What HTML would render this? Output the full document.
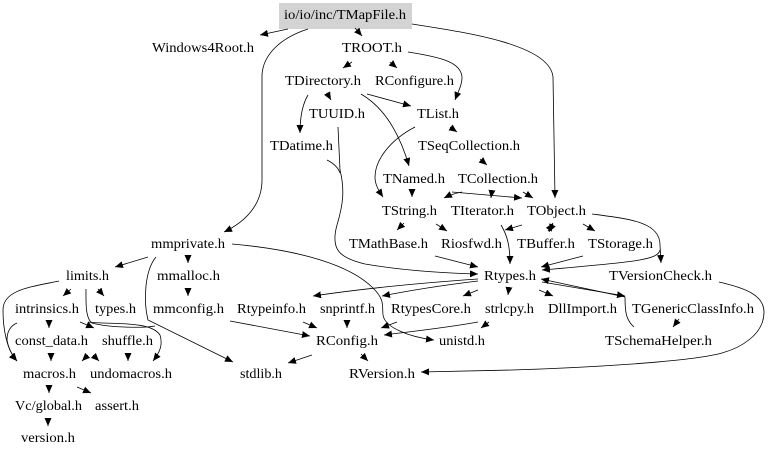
<!DOCTYPE html>
<html><head><meta charset="utf-8"><style>
html,body{margin:0;padding:0;background:#fff}
svg{display:block}
text{font-family:"Liberation Serif",serif;font-size:13.6px;fill:#000}
path{fill:none;stroke:#000;stroke-width:.8;marker-end:url(#a)}
</style></head><body>
<svg width="768" height="455" viewBox="0 0 768 455" xmlns="http://www.w3.org/2000/svg">
<defs><marker id="a" markerUnits="userSpaceOnUse" markerWidth="9" markerHeight="8" refX="8" refY="3.5" orient="auto"><polygon points="0,0 8,3.5 0,7" fill="#000"/></marker></defs>
<rect x="279" y="3" width="133" height="26" fill="#d3d3d3"/>
<text x="284" y="19" textLength="122" lengthAdjust="spacingAndGlyphs">io/io/inc/TMapFile.h</text>
<text x="152" y="52" textLength="102" lengthAdjust="spacingAndGlyphs">Windows4Root.h</text>
<text x="342" y="52" textLength="60" lengthAdjust="spacingAndGlyphs">TROOT.h</text>
<text x="285" y="85" textLength="76" lengthAdjust="spacingAndGlyphs">TDirectory.h</text>
<text x="375" y="85" textLength="79" lengthAdjust="spacingAndGlyphs">RConfigure.h</text>
<text x="309" y="118" textLength="56" lengthAdjust="spacingAndGlyphs">TUUID.h</text>
<text x="417" y="118" textLength="42" lengthAdjust="spacingAndGlyphs">TList.h</text>
<text x="270" y="150" textLength="63" lengthAdjust="spacingAndGlyphs">TDatime.h</text>
<text x="418" y="150" textLength="102" lengthAdjust="spacingAndGlyphs">TSeqCollection.h</text>
<text x="383" y="183" textLength="62" lengthAdjust="spacingAndGlyphs">TNamed.h</text>
<text x="458" y="183" textLength="80" lengthAdjust="spacingAndGlyphs">TCollection.h</text>
<text x="382" y="215" textLength="55" lengthAdjust="spacingAndGlyphs">TString.h</text>
<text x="451" y="215" textLength="63" lengthAdjust="spacingAndGlyphs">TIterator.h</text>
<text x="527" y="215" textLength="59" lengthAdjust="spacingAndGlyphs">TObject.h</text>
<text x="349" y="248" textLength="79" lengthAdjust="spacingAndGlyphs">TMathBase.h</text>
<text x="441" y="248" textLength="61" lengthAdjust="spacingAndGlyphs">Riosfwd.h</text>
<text x="517" y="248" textLength="58" lengthAdjust="spacingAndGlyphs">TBuffer.h</text>
<text x="588" y="248" textLength="65" lengthAdjust="spacingAndGlyphs">TStorage.h</text>
<text x="151" y="248" textLength="74" lengthAdjust="spacingAndGlyphs">mmprivate.h</text>
<text x="484" y="280" textLength="52" lengthAdjust="spacingAndGlyphs">Rtypes.h</text>
<text x="609" y="280" textLength="103" lengthAdjust="spacingAndGlyphs">TVersionCheck.h</text>
<text x="66" y="280" textLength="43" lengthAdjust="spacingAndGlyphs">limits.h</text>
<text x="157" y="280" textLength="63" lengthAdjust="spacingAndGlyphs">mmalloc.h</text>
<text x="15" y="313" textLength="64" lengthAdjust="spacingAndGlyphs">intrinsics.h</text>
<text x="95" y="313" textLength="41" lengthAdjust="spacingAndGlyphs">types.h</text>
<text x="153" y="313" textLength="71" lengthAdjust="spacingAndGlyphs">mmconfig.h</text>
<text x="237" y="313" textLength="69" lengthAdjust="spacingAndGlyphs">Rtypeinfo.h</text>
<text x="320" y="313" textLength="55" lengthAdjust="spacingAndGlyphs">snprintf.h</text>
<text x="391" y="313" textLength="80" lengthAdjust="spacingAndGlyphs">RtypesCore.h</text>
<text x="485" y="313" textLength="49" lengthAdjust="spacingAndGlyphs">strlcpy.h</text>
<text x="548" y="313" textLength="69" lengthAdjust="spacingAndGlyphs">DllImport.h</text>
<text x="632" y="313" textLength="122" lengthAdjust="spacingAndGlyphs">TGenericClassInfo.h</text>
<text x="15" y="345" textLength="73" lengthAdjust="spacingAndGlyphs">const_data.h</text>
<text x="102" y="345" textLength="51" lengthAdjust="spacingAndGlyphs">shuffle.h</text>
<text x="316" y="345" textLength="62" lengthAdjust="spacingAndGlyphs">RConfig.h</text>
<text x="439" y="345" textLength="46" lengthAdjust="spacingAndGlyphs">unistd.h</text>
<text x="605" y="345" textLength="107" lengthAdjust="spacingAndGlyphs">TSchemaHelper.h</text>
<text x="23" y="378" textLength="53" lengthAdjust="spacingAndGlyphs">macros.h</text>
<text x="90" y="378" textLength="82" lengthAdjust="spacingAndGlyphs">undomacros.h</text>
<text x="240" y="378" textLength="42" lengthAdjust="spacingAndGlyphs">stdlib.h</text>
<text x="349" y="378" textLength="66" lengthAdjust="spacingAndGlyphs">RVersion.h</text>
<text x="15" y="410" textLength="67" lengthAdjust="spacingAndGlyphs">Vc/global.h</text>
<text x="95" y="410" textLength="44" lengthAdjust="spacingAndGlyphs">assert.h</text>
<text x="21" y="442" textLength="54" lengthAdjust="spacingAndGlyphs">version.h</text>

<path d="M288,29 L260,35"/>
<path d="M308,29 C280,38 263,55 262,75 L262,180 C262,205 245,222 224,232"/>
<path d="M355,28 L362,36"/>
<path d="M412,24 C470,33 550,45 553,77 L555,198"/>
<path d="M352,62 L343,68"/>
<path d="M390,62 L397,68"/>
<path d="M408,52 C440,57 462,62 462,78 C462,85 458,92 455,100"/>
<path d="M308,95 C302,105 300,118 300,133"/>
<path d="M327,93 L331,100"/>
<path d="M367,94 L411,106"/>
<path d="M361,94 C385,108 400,135 409,166"/>
<path d="M338,127 L340,170 C345,190 343,205 337,225 C330,250 340,258 365,264 C400,270 440,273 478,274"/>
<path d="M327,160 C333,163 338,167 340,173" style="marker-end:none"/>
<path d="M450,127 L457,132"/>
<path d="M415,127 C390,140 375,160 375,177 C375,185 379,191 383,197"/>
<path d="M480,159 L487,165"/>
<path d="M412,189 L412,197"/>
<path d="M452,192 L522,198"/>
<path d="M462,192 C456,193 450,195 444,198"/>
<path d="M492,190 L491,198"/>
<path d="M523,192 L533,198"/>
<path d="M404,223 L397,230"/>
<path d="M436,224 L447,231"/>
<path d="M501,225 C507,235 510,245 510,264"/>
<path d="M522,225 L505,230"/>
<path d="M553,224 L549,232"/>
<path d="M548,231 L553,223"/>
<path d="M583,224 L595,231"/>
<path d="M592,214 C630,219 660,222 660,245 L661,263"/>
<path d="M660,250 C658,260 635,262 542,270"/>
<path d="M583,256 L541,267"/>
<path d="M435,256 L478,267"/>
<path d="M478,279 C420,283 360,289 313,296"/>
<path d="M478,281 C445,285 412,290 382,296"/>
<path d="M478,290 L463,296"/>
<path d="M509,287 L508,295"/>
<path d="M539,290 L553,296"/>
<path d="M542,282 L625,296"/>
<path d="M634,327 C626,320 625,312 625,297 L541,279"/>
<path d="M679,319 L673,327"/>
<path d="M719,282 C745,288 764,295 764,312 C764,335 740,348 722,353 C690,362 580,368 512,370 L421,372"/>
<path d="M232,244 C300,250 350,265 373,288 C385,300 382,305 383,315 C385,328 410,337 434,340"/>
<path d="M148,257 L115,267"/>
<path d="M188,255 L188,263"/>
<path d="M188,288 L188,296"/>
<path d="M156,257 C145,270 143,300 148,320 L233,362"/>
<path d="M59,281 C30,287 3,290 3,310 C3,330 7,350 17,361"/>
<path d="M71,289 L63,296"/>
<path d="M98,289 L104,296"/>
<path d="M86,289 C86,300 85,318 92,323 C110,328 145,328 155,326" style="marker-end:none"/>
<path d="M80,322 L94,328"/>
<path d="M88,322 C110,325 150,320 160,335 C163,345 160,352 153,361"/>
<path d="M49,320 L49,328"/>
<path d="M17,323 C10,326 7,332 7,340 C8,348 12,355 17,361"/>
<path d="M51,353 L51,361"/>
<path d="M88,355 L82,361"/>
<path d="M93,355 L99,361"/>
<path d="M128,353 L128,361"/>
<path d="M49,385 L49,393"/>
<path d="M77,387 L91,393"/>
<path d="M48,418 L48,426"/>
<path d="M230,321 L310,336"/>
<path d="M303,322 L317,328"/>
<path d="M347,320 L347,328"/>
<path d="M397,322 L381,328"/>
<path d="M478,322 C445,328 415,331 384,335"/>
<path d="M489,322 L481,328"/>
<path d="M312,355 L288,363"/>
<path d="M361,354 L368,361"/>
</svg>
</body></html>
